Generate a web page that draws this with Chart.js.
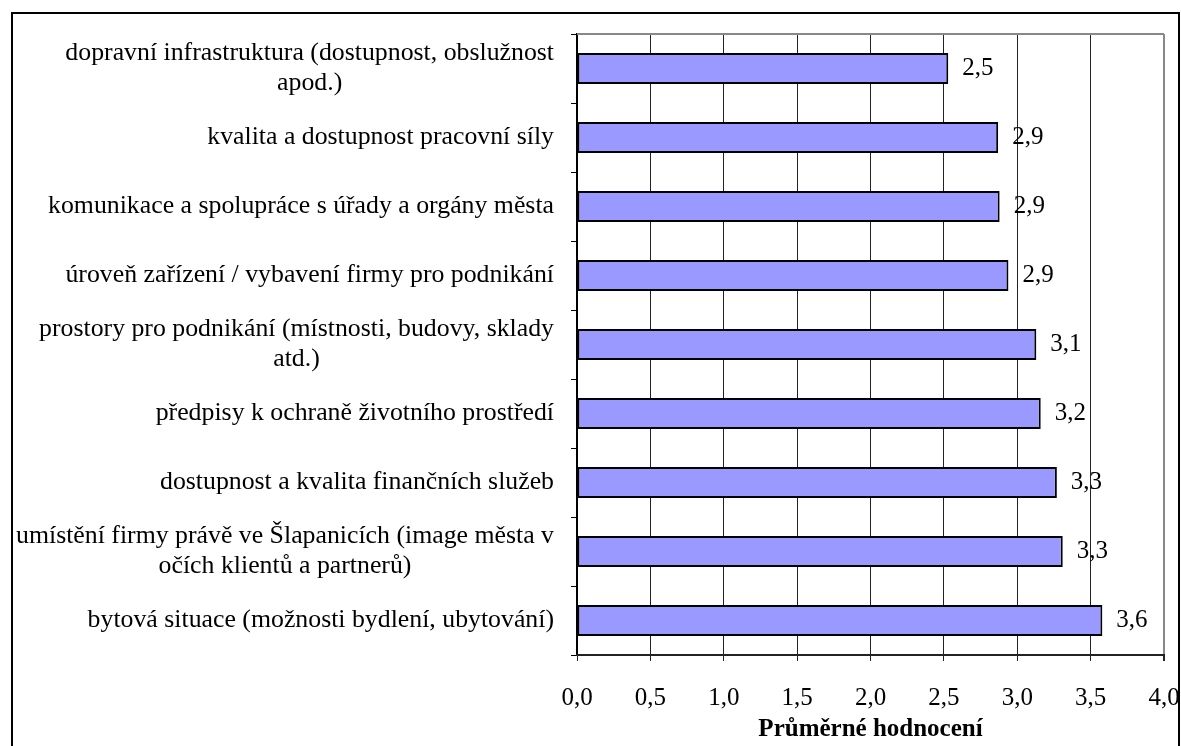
<!DOCTYPE html>
<html>
<head>
<meta charset="utf-8">
<script src="https://cdn.jsdelivr.net/npm/chart.js@4"></script>
<style>
html, body { margin: 0; padding: 0; background: #fff; }
</style>
</head>
<body>
<canvas id="chart" width="1181" height="746"></canvas>
<script>
// Data
const categories = [
    ['dopravní infrastruktura (dostupnost, obslužnost', 'apod.)'],
    'kvalita a dostupnost pracovní síly',
    'komunikace a spolupráce s úřady a orgány města',
    'úroveň zařízení / vybavení firmy pro podnikání',
    ['prostory pro podnikání (místnosti, budovy, sklady', 'atd.)'],
    'předpisy k ochraně životního prostředí',
    'dostupnost a kvalita finančních služeb',
    ['umístění firmy právě ve Šlapanicích (image města v', 'očích klientů a partnerů)'],
    'bytová situace (možnosti bydlení, ubytování)'
];
const averages = [2.53, 2.87, 2.88, 2.94, 3.13, 3.16, 3.27, 3.31, 3.58];
const axisTitle = 'Průměrné hodnocení';
const xMin = 0, xMax = 4, xStep = 0.5;

const serif = '"Liberation Serif", "Times New Roman", serif';
const fmt = v => v.toFixed(1).replace('.', ',');

// Popisky kategorií (víceřádkové, zarovnané vpravo, řádky na střed)
const categoryLabels = {
    id: 'categoryLabels',
    afterDraw(chart) {
        const ctx = chart.ctx;
        const y = chart.scales.y;
        ctx.save();
        ctx.font = '25.8px ' + serif;
        ctx.fillStyle = '#000';
        ctx.textAlign = 'center';
        ctx.textBaseline = 'middle';
        categories.forEach((lab, i) => {
            const lines = Array.isArray(lab) ? lab : [lab];
            const widest = Math.max(...lines.map(l => ctx.measureText(l).width));
            const cx = y.right - 23 - widest / 2;
            const cy = y.getPixelForValue(i);
            lines.forEach((l, k) => {
                ctx.fillText(l, cx, cy + (k - (lines.length - 1) / 2) * 30);
            });
        });
        ctx.restore();
    }
};

// Hodnoty u sloupců
const valueLabels = {
    id: 'valueLabels',
    afterDatasetsDraw(chart) {
        const ctx = chart.ctx;
        const meta = chart.getDatasetMeta(0);
        ctx.save();
        ctx.font = '25px ' + serif;
        ctx.fillStyle = '#000';
        ctx.textAlign = 'left';
        ctx.textBaseline = 'middle';
        meta.data.forEach((bar, i) => {
            ctx.fillText(fmt(averages[i]), bar.x + 14, bar.y);
        });
        ctx.restore();
    }
};

// Rámeček grafu
const frame = {
    id: 'frame',
    afterDraw(chart) {
        const ctx = chart.ctx;
        const a = chart.chartArea;
        ctx.save();
        ctx.strokeStyle = '#888';
        ctx.lineWidth = 2;
        ctx.beginPath();
        ctx.moveTo(a.left, a.top);
        ctx.lineTo(a.right, a.top);
        ctx.stroke();
        ctx.fillStyle = '#fff';
        ctx.fillRect(1180, 0, 10, chart.height);
        ctx.strokeStyle = '#000';
        ctx.lineWidth = 2;
        ctx.strokeRect(12, 13, 1167, 760);
        ctx.restore();
    }
};

const config = {
    type: 'bar',
    data: {
        labels: categories,
        datasets: [{
            data: averages,
            backgroundColor: '#9999ff',
            borderColor: '#000',
            borderWidth: 2,
            borderSkipped: false,
            barPercentage: 0.45,
            categoryPercentage: 1.0
        }]
    },
    options: {
        indexAxis: 'y',
        responsive: false,
        devicePixelRatio: 1,
        animation: false,
        layout: { padding: { top: 34, right: 17, left: 0, bottom: 0 } },
        plugins: {
            legend: { display: false },
            tooltip: { enabled: false }
        },
        scales: {
            y: {
                type: 'category',
                offset: true,
                afterFit(scale) { scale.width = 577; },
                ticks: { display: false },
                grid: {
                    offset: true,
                    drawOnChartArea: false,
                    drawTicks: true,
                    tickLength: 6,
                    color: '#000',
                    tickColor: '#000'
                },
                border: { color: '#000', width: 2 }
            },
            x: {
                type: 'linear',
                min: xMin,
                max: xMax,
                afterFit(scale) {
                    scale.height = 91;
                    scale.paddingRight = 0;
                    scale.paddingLeft = 0;
                },
                ticks: {
                    stepSize: xStep,
                    color: '#000',
                    padding: 22,
                    maxRotation: 0,
                    font: { family: serif, size: 25 },
                    callback: v => fmt(v)
                },
                grid: {
                    color: c => (c.tick && c.tick.value === xMax) ? '#888' : '#222',
                    lineWidth: c => (c.tick && c.tick.value === xMax) ? 2 : 1,
                    tickColor: '#222',
                    tickLength: 6
                },
                border: { color: '#222', width: 2 },
                title: {
                    display: true,
                    text: axisTitle,
                    color: '#000',
                    font: { family: serif, size: 25, weight: 'bold' },
                    padding: { top: 2, bottom: 1 }
                }
            }
        }
    },
    plugins: [categoryLabels, valueLabels, frame]
};

const chart = new Chart(document.getElementById('chart'), config);
</script>
</body>
</html>
